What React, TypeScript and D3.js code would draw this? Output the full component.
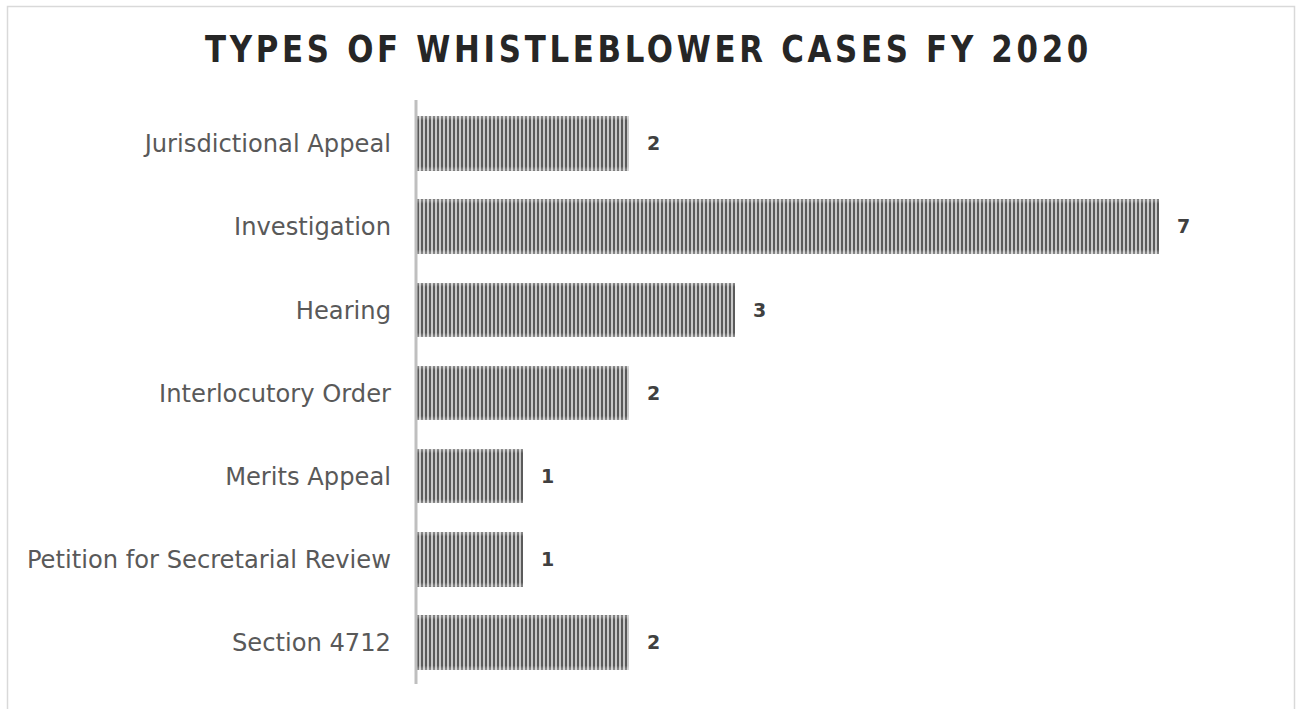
import React from "react";
import * as d3 from "d3";

const TITLE = "TYPES OF WHISTLEBLOWER CASES FY 2020";
const categories = [
  "Jurisdictional Appeal",
  "Investigation",
  "Hearing",
  "Interlocutory Order",
  "Merits Appeal",
  "Petition for Secretarial Review",
  "Section 4712",
];
const values = [2, 7, 3, 2, 1, 1, 2];

const W = 1296;
const H = 709;

export default function App() {
  const x = d3.scaleLinear().domain([0, 7]).range([417, 1159]);
  const y = d3
    .scaleBand<string>()
    .domain(categories)
    .range([102, 684])
    .paddingInner(0.345)
    .paddingOuter(0.17);

  return (
    <div style={{ position: "absolute", left: 0, top: 0 }}>
      <svg width={W} height={H} style={{ display: "block" }}>
        <defs>
          <pattern id="stripes" patternUnits="userSpaceOnUse" width={4} height={10} x={417}>
            <rect x={0} y={0} width={2} height={10} fill="#5a5a5a" shapeRendering="crispEdges" />
            <rect x={2} y={0} width={2} height={10} fill="#c8c8c8" shapeRendering="crispEdges" />
          </pattern>
          <linearGradient id="edge" x1="0" x2="0" y1="0" y2="1">
            <stop offset="0" stopColor="#ffffff" stopOpacity={0.35} />
            <stop offset="0.08" stopColor="#ffffff" stopOpacity={0} />
            <stop offset="0.92" stopColor="#ffffff" stopOpacity={0} />
            <stop offset="1" stopColor="#ffffff" stopOpacity={0.35} />
          </linearGradient>
        </defs>
        <rect x={0} y={0} width={W} height={H} fill="#ffffff" />
        <rect x={7.5} y={6.5} width={1287} height={H + 20} fill="#ffffff" stroke="#d9d9d9" strokeWidth={1.5} />
        <text
          x={205}
          y={62}
          textAnchor="start"
          fontFamily="'DejaVu Sans Condensed', 'DejaVu Sans', sans-serif"
          fontWeight="bold"
          fontSize={37}
          letterSpacing={4}
          textLength={887}
          lengthAdjust="spacingAndGlyphs"
          fill="#262626"
        >
          {TITLE}
        </text>
        {categories.map((c, i) => {
          const y0 = y(c)!;
          const bw = y.bandwidth();
          const x1 = x(values[i]);
          return (
            <g key={c}>
              <rect x={x(0)} y={y0} width={x1 - x(0)} height={bw} fill="url(#stripes)" shapeRendering="crispEdges" />
              <rect x={x(0)} y={y0} width={x1 - x(0)} height={bw} fill="url(#edge)" />
              <text
                x={391}
                y={y0 + bw / 2}
                dy="0.36em"
                textAnchor="end"
                fontFamily="'DejaVu Sans', sans-serif"
                fontSize={24.2}
                fill="#595959"
              >
                {c}
              </text>
              <text
                x={x1 + 18}
                y={y0 + bw / 2}
                dy="0.36em"
                textAnchor="start"
                fontFamily="'DejaVu Sans', sans-serif"
                fontWeight="bold"
                fontSize={19}
                fill="#404040"
              >
                {values[i]}
              </text>
            </g>
          );
        })}
        <line x1={416} x2={416} y1={100} y2={684} stroke="#bfbfbf" strokeWidth={3} />
      </svg>
    </div>
  );
}
